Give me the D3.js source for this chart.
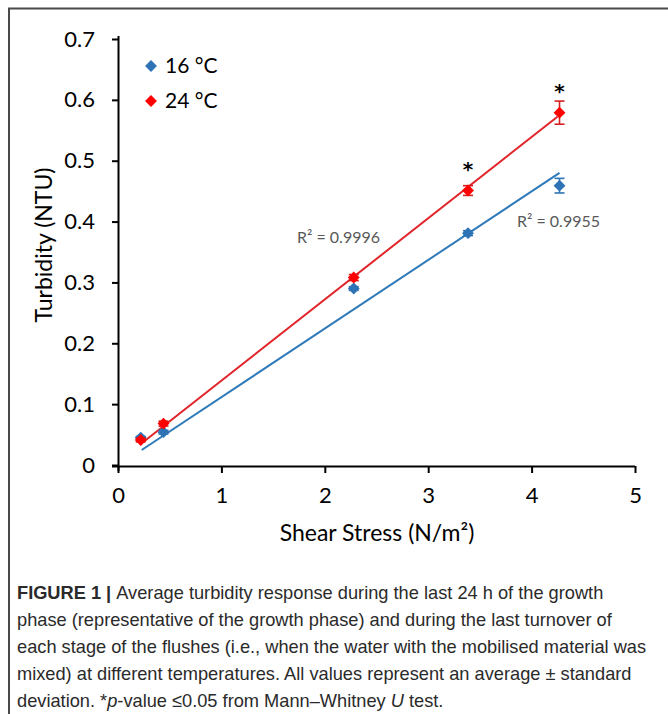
<!DOCTYPE html>
<html>
<head>
<meta charset="utf-8">
<script src="https://cdn.jsdelivr.net/npm/d3@7"></script>
<style>
  body { margin: 0; background: #fff; }
  svg { display: block; }
</style>
</head>
<body>
<svg id="chart" width="668" height="714"></svg>
<script>
// shear stress (N/m²) per flush stage
const shear = [0.22, 0.44, 2.28, 3.385, 4.27];
// turbidity means and standard deviations
const turb16 = [0.045, 0.054, 0.290, 0.381, 0.459];
const sd16 = [0.002, 0.003, 0.003, 0.004, 0.012];
const turb24 = [0.041, 0.068, 0.308, 0.451, 0.579];
const sd24 = [0.003, 0.004, 0.005, 0.008, 0.019];
const signif = [false, false, false, true, true];
// linear trendlines as drawn (intercept, slope, x start, x end)
const trend16 = [-0.0012, 0.1127, 0.229, 4.27];
const trend24 = [0.005, 0.1335, 0.22, 4.25];
const r2Labels = ["R² = 0.9996", "R² = 0.9955"];
const xTicks = [0, 1, 2, 3, 4, 5];
const yTicks = [0, 0.1, 0.2, 0.3, 0.4, 0.5, 0.6, 0.7];
const legendLabels = ["16 °C", "24 °C"];

const blue = "#2e73b5", red = "#ff0000", blueLine = "#2f7ab8", redLine = "#e0242a";
const font = "Lato, 'Open Sans', sans-serif";

const svg = d3.select("#chart");

// frame around the figure
svg.append("path")
  .attr("d", "M9,714 V8.5 H668")
  .attr("fill", "none")
  .attr("stroke", "#4a4a4a")
  .attr("stroke-width", 2);

const x = d3.scaleLinear().domain([0, 5]).range([118, 635]);
const y = d3.scaleLinear().domain([0, 0.7]).range([465, 39]);

// axes
const xAxis = svg.append("g")
  .attr("transform", "translate(0,466)")
  .call(d3.axisBottom(x).tickValues(xTicks).tickSize(7).tickSizeOuter(0).tickPadding(14).tickFormat(d3.format("d")));
const yAxis = svg.append("g")
  .attr("transform", "translate(118,0)")
  .call(d3.axisLeft(y).tickValues(yTicks).tickSize(6).tickSizeOuter(0).tickPadding(17)
    .tickFormat(d => d === 0 ? "0" : d3.format(".1f")(d)));

[xAxis, yAxis].forEach(g => {
  g.select(".domain").attr("stroke", "#000").attr("stroke-width", 2);
  g.selectAll(".tick line").attr("stroke", "#000").attr("stroke-width", 2);
  g.selectAll(".tick text").attr("fill", "#000").style("font-family", font).style("font-size", "22px");
});
// small overhangs of the axis lines
xAxis.select(".domain").attr("d", `M${118 - 6},0.5 H635`);
yAxis.select(".domain").attr("d", `M0.5,${465 + 6} V${36}`);

// trendlines
[[trend16, blueLine], [trend24, redLine]].forEach(([t, c]) => {
  svg.append("line")
    .attr("x1", x(t[2])).attr("y1", y(t[0] + t[1] * t[2]))
    .attr("x2", x(t[3])).attr("y2", y(t[0] + t[1] * t[3]))
    .attr("stroke", c).attr("stroke-width", 2);
});

const diamond = d3.symbol().type(d3.symbolDiamond2).size(90);

function drawSeries(vals, sds, color, barColor) {
  const g = svg.append("g");
  const pts = shear.map((s, i) => ({ s, v: vals[i], e: sds[i] }));
  const bars = g.selectAll(".err").data(pts).enter().append("g").attr("class", "err")
    .attr("stroke", barColor).attr("stroke-width", 1.6);
  bars.append("line")
    .attr("x1", d => x(d.s)).attr("x2", d => x(d.s))
    .attr("y1", d => y(d.v - d.e)).attr("y2", d => y(d.v + d.e));
  bars.append("line")
    .attr("x1", d => x(d.s) - 5).attr("x2", d => x(d.s) + 5)
    .attr("y1", d => y(d.v - d.e)).attr("y2", d => y(d.v - d.e));
  bars.append("line")
    .attr("x1", d => x(d.s) - 5).attr("x2", d => x(d.s) + 5)
    .attr("y1", d => y(d.v + d.e)).attr("y2", d => y(d.v + d.e));
  g.selectAll(".pt").data(pts).enter().append("path")
    .attr("d", diamond)
    .attr("transform", d => `translate(${x(d.s)},${y(d.v)})`)
    .attr("fill", color);
}
drawSeries(turb16, sd16, blue, "#2e73b5");
drawSeries(turb24, sd24, red, "#d42020");

// significance stars
svg.selectAll(".star").data(shear.map((s, i) => ({ s, v: turb24[i], sig: signif[i] })).filter(d => d.sig))
  .enter().append("text")
  .attr("x", d => x(d.s)).attr("y", d => y(d.v) - 15)
  .attr("text-anchor", "middle")
  .style("font-family", "'DejaVu Sans', sans-serif").style("font-size", "20px").style("font-weight", "bold")
  .text("*");

// R² labels
[[297, 243], [517, 227]].forEach(([lx, ly], i) => {
  svg.append("text").attr("x", lx).attr("y", ly).text(r2Labels[i])
    .style("font-family", font).style("font-size", "16px").attr("fill", "#595959");
});

// legend
const legend = svg.append("g");
legendLabels.forEach((lab, i) => {
  const ly = 66 + i * 35;
  legend.append("path").attr("d", diamond).attr("transform", `translate(151,${ly})`).attr("fill", i ? red : blue);
  legend.append("text").attr("x", 165).attr("y", ly + 7).text(lab)
    .style("font-family", font).style("font-size", "21px").attr("fill", "#000");
});

// axis titles
svg.append("text").attr("x", 377).attr("y", 541).attr("text-anchor", "middle")
  .style("font-family", font).style("font-size", "23px").attr("fill", "#000")
  .text("Shear Stress (N/m²)");
svg.append("text").attr("transform", "translate(52,245) rotate(-90)").attr("text-anchor", "middle")
  .style("font-family", font).style("font-size", "23px").attr("fill", "#000")
  .text("Turbidity (NTU)");

// caption
const capFont = "'Liberation Sans', Arial, sans-serif";
const caption = [
  [["FIGURE 1 | ", "b"], ["Average turbidity response during the last 24 h of the growth", ""]],
  [["phase (representative of the growth phase) and during the last turnover of", ""]],
  [["each stage of the flushes (i.e., when the water with the mobilised material was", ""]],
  [["mixed) at different temperatures. All values represent an average ± standard", ""]],
  [["deviation. *", ""], ["p", "i"], ["-value ≤0.05 from Mann–Whitney ", ""], ["U", "i"], [" test.", ""]]
];
const capG = svg.append("g").attr("transform", "translate(17,0) scale(0.96,1)");
caption.forEach((line, i) => {
  const t = capG.append("text").attr("x", 0).attr("y", 599 + i * 27)
    .style("font-family", capFont).style("font-size", "19px").attr("fill", "#2a2a2a");
  line.forEach(([s, st]) => {
    t.append("tspan").text(s)
      .style("font-weight", st === "b" ? "bold" : "normal")
      .style("font-style", st === "i" ? "italic" : "normal");
  });
});
</script>
</body>
</html>
